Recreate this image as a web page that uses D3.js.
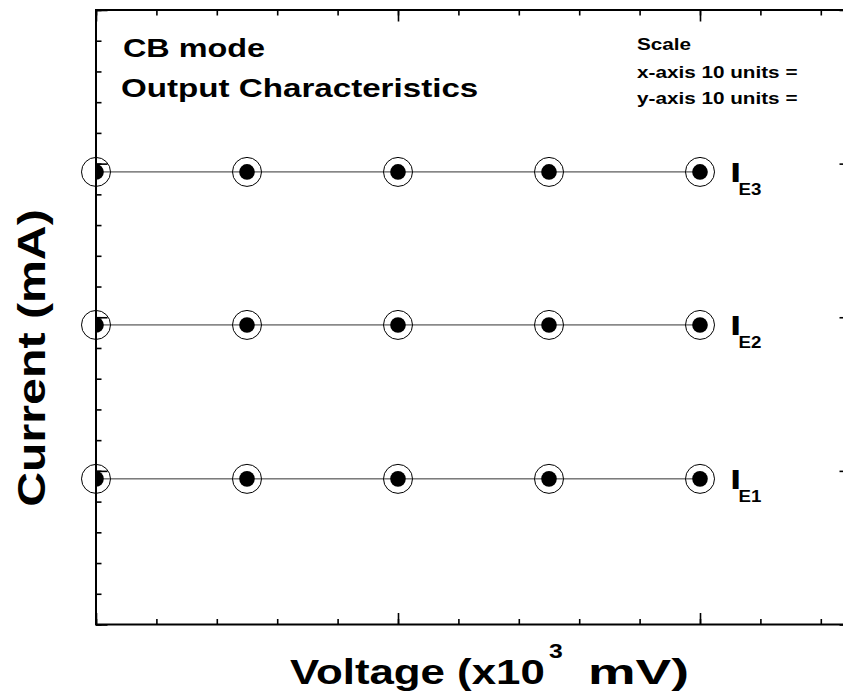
<!DOCTYPE html>
<html><head><meta charset="utf-8">
<script src="https://cdn.jsdelivr.net/npm/d3@7"></script>
<style>body{margin:0;background:#fff}svg{display:block}text{font-family:"Liberation Sans",Arial,sans-serif;font-weight:bold;fill:#000}</style>
</head><body>
<script>
// ---- data ----
const xValues = [0, 5, 10, 15, 20];
const seriesE1 = [4.74, 4.74, 4.74, 4.74, 4.74];
const seriesE2 = [9.75, 9.75, 9.75, 9.75, 9.75];
const seriesE3 = [14.73, 14.73, 14.73, 14.73, 14.73];
const seriesSubs = ["E1", "E2", "E3"];
const xMinorTicks = d3.range(0, 26, 2);
const xMajorTicks = [0, 10, 20];
const yMinorTicks = d3.range(0, 21, 1);
const yMajorTicks = [0, 5, 10, 15, 20];
const titleLines = ["CB mode", "Output Characteristics"];
const scaleLines = ["Scale", "x-axis 10 units =", "y-axis 10 units ="];

const W = 843, H = 696;
const svg = d3.select("body").append("svg").attr("width", W).attr("height", H);
const L = 96, R = 851, T = 10, B = 624.5;
const x = d3.scaleLinear().domain([0, 25]).range([L, R]);
const y = d3.scaleLinear().domain([0, 20]).range([B, T]);
const SX = 1.27;

svg.append("clipPath").attr("id", "plotclip").append("rect")
  .attr("x", L).attr("y", T).attr("width", R - L).attr("height", B - T);

// series
const series = [seriesE1, seriesE2, seriesE3];
const line = d3.line().x((d, i) => x(xValues[i])).y(d => y(d));
series.forEach((s, k) => {
  svg.append("path").datum(s).attr("d", line)
    .attr("fill", "none").attr("stroke", "#333").attr("stroke-width", 1);
  svg.append("g").selectAll("circle").data(s).join("circle")
    .attr("cx", (d, i) => x(xValues[i])).attr("cy", d => y(d)).attr("r", 14.5)
    .attr("fill", "none").attr("stroke", "#000").attr("stroke-width", 1);
  svg.append("g").attr("clip-path", "url(#plotclip)").selectAll("circle").data(s).join("circle")
    .attr("cx", (d, i) => x(xValues[i])).attr("cy", d => y(d)).attr("r", 7.8)
    .attr("fill", "#000");
  const last = s[s.length - 1];
  const lx = x(xValues[xValues.length - 1]) + 30, ly = y(last);
  svg.append("text").attr("transform", `translate(${lx},${ly + 10.5}) scale(1.5,1)`)
    .attr("font-size", 27).text("I");
  svg.append("text").attr("transform", `translate(${lx + 8.5},${ly + 23.5}) scale(1.1,1)`)
    .attr("font-size", 17).text(seriesSubs[k]);
});

// axes (inward ticks)
function styleAxis(g) {
  g.select(".domain").remove();
  g.selectAll(".tick line").attr("stroke", "#000").attr("stroke-width", 1.6);
}
const axes = [
  [d3.axisBottom(x), `translate(0,${B})`, xMinorTicks, xMajorTicks],
  [d3.axisTop(x), `translate(0,${T})`, xMinorTicks, xMajorTicks],
  [d3.axisLeft(y), `translate(${L},0)`, yMinorTicks, yMajorTicks],
  [d3.axisRight(y), `translate(${R},0)`, yMinorTicks, yMajorTicks]
];
axes.forEach(([ax, tr, minor, major]) => {
  svg.append("g").attr("transform", tr)
    .call(ax.tickValues(minor).tickSize(-5.5).tickFormat("")).call(styleAxis);
  svg.append("g").attr("transform", tr)
    .call(ax.tickValues(major).tickSize(-11.5).tickFormat("")).call(styleAxis);
});
svg.append("rect").attr("x", L).attr("y", T).attr("width", R - L).attr("height", B - T)
  .attr("fill", "none").attr("stroke", "#000").attr("stroke-width", 2);

// title texts
svg.append("text").attr("transform", `translate(123,57) scale(${SX},1)`).attr("font-size", 25.5).text(titleLines[0]);
svg.append("text").attr("transform", `translate(121,97) scale(1.3,1)`).attr("font-size", 25.5).text(titleLines[1]);
[50, 77.5, 104].forEach((by, i) => {
  svg.append("text").attr("transform", `translate(637,${by}) scale(${SX},1)`).attr("font-size", 16.3).text(scaleLines[i]);
});

// axis titles
svg.append("text").attr("transform", `translate(45,358) rotate(-90) scale(${SX},1)`)
  .attr("text-anchor", "middle").attr("font-size", 38).text("Current (mA)");
svg.append("text").attr("transform", `translate(290,684) scale(${SX},1)`).attr("font-size", 34.5).text("Voltage (x10");
svg.append("text").attr("transform", `translate(549,658) scale(${SX},1)`).attr("font-size", 19.5).text("3");
svg.append("text").attr("transform", `translate(588,684) scale(1.55,1)`).attr("font-size", 34.5).text("mV)");
</script>
</body></html>
